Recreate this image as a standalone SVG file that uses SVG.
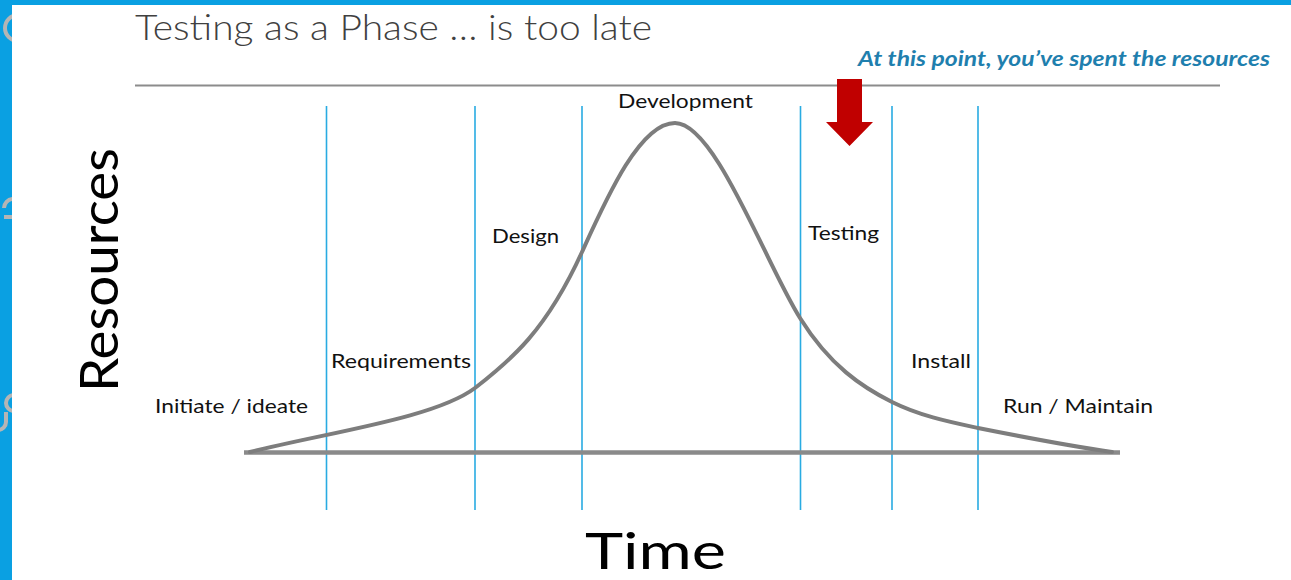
<svg xmlns="http://www.w3.org/2000/svg" width="1291" height="580" viewBox="0 0 1291 580">
  <style>
    .lbl { font-family: Lato, "Liberation Sans", sans-serif; font-size: 20px; fill: #111111; }
    .axis { font-family: Lato, "Liberation Sans", sans-serif; fill: #000000; }
    .phase { stroke: #29abe2; stroke-width: 1.6; fill: none; }
    .curve { stroke: #7d7d7d; stroke-width: 4; fill: none; stroke-linecap: round; stroke-linejoin: round; }
  </style>
  <defs>
    <filter id="soft" x="-5%" y="-5%" width="110%" height="110%">
      <feGaussianBlur stdDeviation="0.7"/>
    </filter>
    <clipPath id="band">
      <rect x="0" y="0" width="12" height="580"/>
    </clipPath>
  </defs>

  <rect x="0" y="0" width="1291" height="580" fill="#ffffff"/>

  <g id="frame">
    <rect x="0" y="0" width="1291" height="5" fill="#0aa0e2"/>
    <rect x="0" y="0" width="12" height="580" fill="#0aa0e2"/>
    <g clip-path="url(#band)" fill="none" stroke="#b5b5b5" stroke-width="4">
      <circle cx="18" cy="28" r="13"/>
      <path d="M4,208 a9,9 0 1 1 10,9 h-10"/>
      <circle cx="14" cy="403" r="8"/>
      <path d="M6,412 v10 a8,8 0 0 1 -8,8"/>
    </g>
  </g>

  <g id="title">
    <text x="135" y="40" font-family="Lato, 'Liberation Sans', sans-serif" font-weight="300" font-size="36" fill="#404040" textLength="517" lengthAdjust="spacingAndGlyphs">Testing as a Phase … is too late</text>
    <line x1="135" y1="85.5" x2="1220" y2="85.5" stroke="#8c8c8c" stroke-width="2"/>
  </g>

  <g id="annotation">
    <text x="858" y="66" font-family="Lato, 'Liberation Sans', sans-serif" font-weight="700" font-style="italic" font-size="20" fill="#1f7fae" textLength="412" lengthAdjust="spacingAndGlyphs">At this point, you’ve spent the resources</text>
    <polygon points="837,79 862,79 862,122 873,122 849.5,146 826,122 837,122" fill="#c00000"/>
  </g>

  <g id="connectors">
    <line class="phase" x1="326.5" y1="106" x2="326.5" y2="510"/>
    <line class="phase" x1="475" y1="106" x2="475" y2="510"/>
    <line class="phase" x1="582" y1="106" x2="582" y2="510"/>
    <line class="phase" x1="800.5" y1="106" x2="800.5" y2="510"/>
    <line class="phase" x1="892" y1="106" x2="892" y2="510"/>
    <line class="phase" x1="978" y1="106" x2="978" y2="510"/>
    <g filter="url(#soft)">
      <line x1="244" y1="452.5" x2="1120" y2="452.5" stroke="#8a8a8a" stroke-width="4.5"/>
      <path class="curve" d="M250,452 C330,432 435,418 475,388 C511,360 546,331 582,252 C607,197 640,123 675,123 C715,123 765,262 800,318 C830,366 862,387 892,402 C920,416 950,422 978,428 C1020,436.4 1070,446 1112,452"/>
    </g>
  </g>

  <g id="node-initiate"><text class="lbl" x="155" y="413" textLength="153" lengthAdjust="spacingAndGlyphs">Initiate / ideate</text></g>
  <g id="node-requirements"><text class="lbl" x="331" y="368" textLength="140" lengthAdjust="spacingAndGlyphs">Requirements</text></g>
  <g id="node-design"><text class="lbl" x="492" y="243" textLength="67" lengthAdjust="spacingAndGlyphs">Design</text></g>
  <g id="node-development"><text class="lbl" x="618" y="108" textLength="135" lengthAdjust="spacingAndGlyphs">Development</text></g>
  <g id="node-testing"><text class="lbl" x="808" y="240" textLength="71" lengthAdjust="spacingAndGlyphs">Testing</text></g>
  <g id="node-install"><text class="lbl" x="911" y="368" textLength="60" lengthAdjust="spacingAndGlyphs">Install</text></g>
  <g id="node-run"><text class="lbl" x="1003" y="413" textLength="150" lengthAdjust="spacingAndGlyphs">Run / Maintain</text></g>

  <g id="axis-y"><text class="axis" font-size="52" transform="translate(118,392) rotate(-90)" textLength="244" lengthAdjust="spacingAndGlyphs">Resources</text></g>
  <g id="axis-x"><text class="axis" font-size="50" x="585" y="569" textLength="141" lengthAdjust="spacingAndGlyphs">Time</text></g>
</svg>
